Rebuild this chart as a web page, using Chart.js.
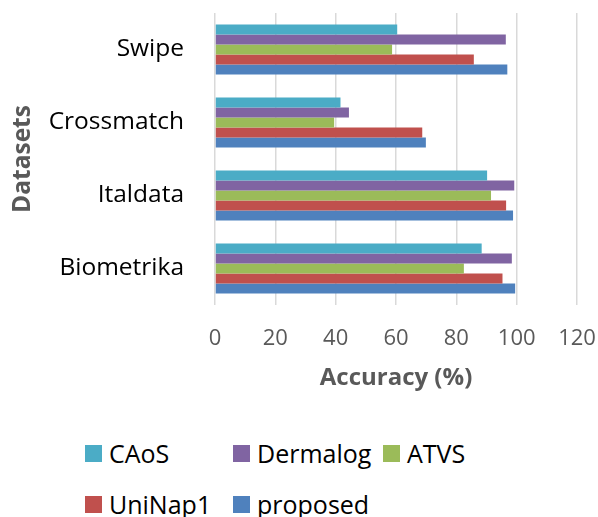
<!DOCTYPE html>
<html>
<head>
<meta charset="utf-8">
<script src="https://cdn.jsdelivr.net/npm/chart.js@4/dist/chart.umd.min.js"></script>
<style>
  html, body { margin: 0; padding: 0; background: #fff; }
  #wrap { position: relative; width: 598px; height: 517px; }
  #cbox { position: absolute; left: 0; top: 0; width: 598px; height: 400px; }
  .lg { position: absolute; display: flex; align-items: center; font-family: "Open Sans", sans-serif; font-size: 25px; color: #000; white-space: nowrap; }
  .lg span.b { display: inline-block; width: 17px; height: 17px; margin-right: 7px; }
</style>
</head>
<body>
<div id="wrap">
  <div id="cbox"><canvas id="c"></canvas></div>
  <div id="legend"></div>
</div>
<script>
const categories = ["Swipe", "Crossmatch", "Italdata", "Biometrika"];
const seriesNames = ["CAoS", "Dermalog", "ATVS", "UniNap1", "proposed"];
const CAoS     = [60.4, 41.6, 90.2, 88.4];
const Dermalog = [96.4, 44.4, 99.2, 98.4];
const ATVS     = [58.7, 39.5, 91.5, 82.5];
const UniNap1  = [85.8, 68.7, 96.5, 95.3];
const proposed = [96.9, 69.9, 98.8, 99.5];
const seriesValues = [CAoS, Dermalog, ATVS, UniNap1, proposed];
const colors = ["#4BACC6", "#8064A2", "#9BBB59", "#C0504D", "#4F81BD"];
const xTicks = [0, 20, 40, 60, 80, 100, 120];

const ctx = document.getElementById('c');
new Chart(ctx, {
  type: 'bar',
  data: {
    labels: categories,
    datasets: seriesNames.map((n, i) => ({
      label: n,
      data: seriesValues[i],
      backgroundColor: colors[i],
      borderWidth: 0,
      categoryPercentage: 0.685,
      barPercentage: 1.0
    }))
  },
  options: {
    indexAxis: 'y',
    responsive: true,
    maintainAspectRatio: false,
    animation: false,
    layout: { padding: { top: 13, right: 21, left: 0, bottom: 0 } },
    plugins: { legend: { display: false }, tooltip: { enabled: false } },
    scales: {
      x: {
        min: 0, max: 120,
        afterBuildTicks: (s) => { s.ticks = xTicks.map(v => ({ value: v })); },
        afterFit: (s) => { s.height = 95; s.paddingLeft = 0; s.paddingRight = 0; },
        grid: { color: '#d9d9d9', lineWidth: 1.5, drawTicks: false },
        border: { display: false },
        ticks: { color: '#595959', padding: 21, font: { family: 'Open Sans', size: 22 }, maxRotation: 0 },
        title: { display: true, text: 'Accuracy (%)', color: '#595959', font: { family: 'Open Sans', size: 24, weight: 'bold' }, padding: { top: 0, bottom: 7 } }
      },
      y: {
        afterFit: (s) => { s.width = 215; s.paddingTop = 0; s.paddingBottom = 0; },
        grid: { display: false, drawTicks: false },
        border: { display: false },
        ticks: { color: '#000', padding: 31, font: { family: 'Open Sans', size: 24.5 } },
        title: { display: true, text: 'Datasets', color: '#595959', font: { family: 'Open Sans', size: 24.5, weight: 'bold' }, padding: { top: 8, bottom: 0 } }
      }
    }
  }
});

const legendPos = [[85, 453], [233, 453], [383, 453], [85, 504], [233, 504]];
const lg = document.getElementById('legend');
seriesNames.forEach((n, i) => {
  const d = document.createElement('div');
  d.className = 'lg';
  d.style.left = legendPos[i][0] + 'px';
  d.style.top = (legendPos[i][1] - 17) + 'px';
  d.style.height = '34px';
  const b = document.createElement('span');
  b.className = 'b';
  b.style.background = colors[i];
  d.appendChild(b);
  d.appendChild(document.createTextNode(n));
  lg.appendChild(d);
});
</script>
</body>
</html>
